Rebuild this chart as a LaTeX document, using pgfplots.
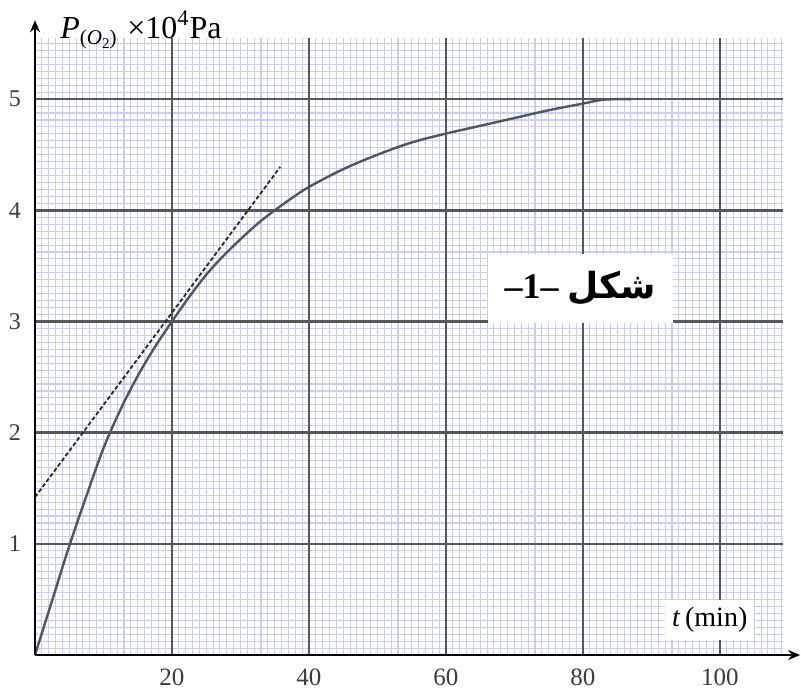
\documentclass[border=0pt]{standalone}
\usepackage{pgfplots}
\pgfplotsset{compat=1.18}
\usetikzlibrary{arrows.meta}
\usepackage{fontspec}
\setmainfont{Liberation Serif}
\newfontfamily\arabicfont[Script=Arabic]{DejaVu Sans}
\TeXXeTstate=1
\definecolor{minorgrid}{RGB}{200,207,236}
\definecolor{majorgrid}{RGB}{85,87,93}
\definecolor{curvecol}{RGB}{78,86,98}
\definecolor{ticklab}{RGB}{60,60,60}

\begin{document}
\begin{tikzpicture}
\useasboundingbox (-17.5pt,-18pt) rectangle (383pt,327.5pt);
\begin{axis}[
  scale only axis, width=374pt, height=308.5pt,
  xmin=0, xmax=109.2, ymin=0, ymax=5.55,
  axis line style={draw=none},
  clip=false,
  xtick={20,40,60,80,100}, xticklabels={20,40,60,80,100},
  ytick={1,2,3,4,5}, yticklabels={1,2,3,4,5},
  minor xtick={0,1,...,109},
  minor ytick={0,0.0625,...,5.55},
  grid=minor,
  minor grid style={minorgrid, line width=0.55pt},
  major tick length=0pt, minor tick length=0pt,
  xticklabel style={font=\fontsize{12.5}{14}\selectfont, text=ticklab, yshift=-3.5pt},
  yticklabel style={font=\fontsize{12}{14}\selectfont, text=ticklab, xshift=-3.5pt},
]
% major grid lines (drawn above the minor grid, below the curves)
\foreach \gx in {20,40,60,80,100} {
  \edef\tmp{\noexpand\draw[majorgrid, line width=1.2pt] (axis cs:\gx,0) -- (axis cs:\gx,5.55);}\tmp
}
\foreach \gy in {1,2,3,4,5} {
  \edef\tmp{\noexpand\draw[majorgrid, line width=1.2pt] (axis cs:0,\gy) -- (axis cs:109.2,\gy);}\tmp
}

\addplot[curvecol, line width=1.2pt, smooth, tension=0.6] coordinates {
(0,0) (2.5,0.49) (5,0.98) (7.5,1.43) (10,1.86) (12.5,2.21) (15,2.51) (17.5,2.77)
(20,3.0) (22.5,3.22) (25,3.42) (27.5,3.59) (30,3.74) (32.5,3.88) (35,4.0)
(37.5,4.11) (40,4.21) (45,4.37) (50,4.5) (55,4.61) (60,4.69) (65,4.76)
(70,4.83) (75,4.9) (80,4.96) (83,4.995) (87,5.0)
};
\addplot[black!85, line width=0.9pt, dash pattern=on 2pt off 1.2pt] coordinates {(0,1.42) (35.8,4.39)};

\draw[black, line width=1.2pt, -{Stealth[length=6pt,width=5pt]}] (axis cs:0,0) -- (axis cs:111.7,0);
\draw[black, line width=1.2pt, -{Stealth[length=6pt,width=5pt]}] (axis cs:0,0) -- (axis cs:0,5.71);

\node[anchor=base west, inner sep=0pt] at (axis cs:3.65,5.549)
  {\fontsize{16}{18}\selectfont\textit{P}\raisebox{-0.45ex}{\fontsize{10.5}{12}\selectfont(\textit{O}\raisebox{-0.35ex}{\fontsize{7.5}{9}\selectfont 2})}\,\,×10\textsuperscript{4}Pa};

\node[fill=white, inner sep=3.5pt] at (axis cs:98.5,0.315)
  {\fontsize{14}{16}\selectfont\textit{t}\,(min)};

\node[fill=white, minimum width=92.5pt, minimum height=34.5pt, inner sep=0pt] at (axis cs:79.6,3.30)
  {\fontsize{18}{20}\selectfont\bfseries\beginR{\arabicfont شكل} \beginL–1–\endL\endR};
\end{axis}
\end{tikzpicture}
\end{document}
